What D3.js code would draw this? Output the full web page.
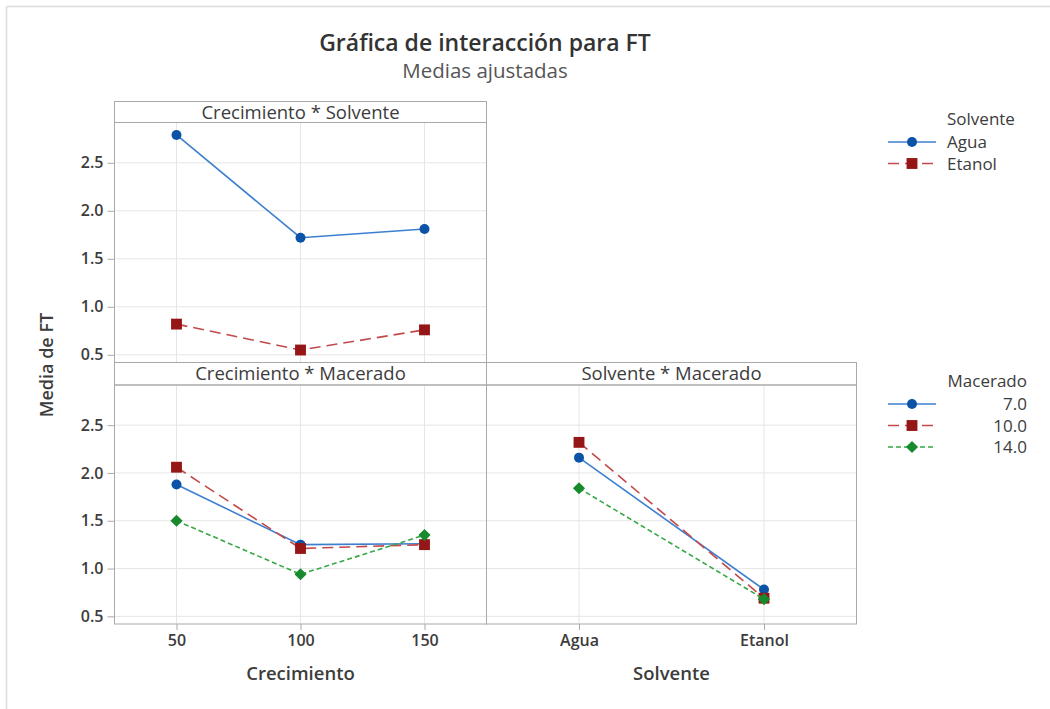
<!DOCTYPE html>
<html>
<head>
<meta charset="utf-8">
<script src="https://cdn.jsdelivr.net/npm/d3@7"></script>
<style>
  body { margin: 0; background: #fff; }
  svg { font-family: "Open Sans", "Noto Sans", sans-serif; }
</style>
</head>
<body>
<div id="chart"></div>
<script>
// ---- data ----
var crecimiento = ["50", "100", "150"];
var solvente = ["Agua", "Etanol"];
var macerado = ["7.0", "10.0", "14.0"];
var yTicks = [0.5, 1.0, 1.5, 2.0, 2.5];

// Crecimiento * Solvente
var csAgua = [2.79, 1.72, 1.81];
var csEtanol = [0.82, 0.55, 0.76];
// Crecimiento * Macerado
var cm7 = [1.88, 1.25, 1.26];
var cm10 = [2.06, 1.21, 1.25];
var cm14 = [1.50, 0.94, 1.35];
// Solvente * Macerado
var sm7 = [2.16, 0.78];
var sm10 = [2.32, 0.69];
var sm14 = [1.84, 0.68];

/* ****** SVG ****** */
var width = 1050, height = 709;
var svg = d3.select("#chart").append("svg")
    .attr("width", width)
    .attr("height", height);

// outer frame (only top/left visible in the reference)
svg.append("line").attr("x1", 6.5).attr("x2", 6.5).attr("y1", 6.5).attr("y2", height)
    .attr("stroke", "#dcdcdc").attr("stroke-width", 1.5);
svg.append("line").attr("x1", 6.5).attr("x2", width).attr("y1", 6.5).attr("y2", 6.5)
    .attr("stroke", "#dcdcdc").attr("stroke-width", 1.5);

var border = "#a9a9a9", grid = "#e6e6e6", txt = "#3c3c3c";

// styles for each series
var styles = {
    blue:  { line: "#3d7fcf", mark: "#0b53a6", dash: null,   sym: "circle" },
    red:   { line: "#c24a4a", mark: "#951616", dash: "11,6", sym: "square" },
    green: { line: "#36a845", mark: "#168a2c", dash: "5,3",  sym: "diamond" }
};

function marker(g, st, x, y) {
    if (st.sym === "circle") {
        g.append("circle").attr("cx", x).attr("cy", y).attr("r", 5)
            .attr("fill", st.mark);
    } else if (st.sym === "square") {
        g.append("path").attr("d", d3.symbol().type(d3.symbolSquare).size(118)())
            .attr("transform", "translate(" + x + "," + y + ")")
            .attr("fill", st.mark);
    } else {
        g.append("path").attr("d", d3.symbol().type(d3.symbolSquare).size(74)())
            .attr("transform", "translate(" + x + "," + y + ") rotate(45)")
            .attr("fill", st.mark);
    }
}

/* ****** Panels ****** */
var xL = 114.5, xM = 486.5, xR = 856.5;
var panels = [
    { title: "Crecimiento * Solvente", x0: xL, x1: xM, hTop: 101.5, top: 122.5, bottom: 362.5,
      cats: crecimiento, series: [[csAgua, styles.blue], [csEtanol, styles.red]], yAxis: true, xAxis: false },
    { title: "Crecimiento * Macerado", x0: xL, x1: xM, hTop: 362.5, top: 385, bottom: 624,
      cats: crecimiento, series: [[cm7, styles.blue], [cm10, styles.red], [cm14, styles.green]], yAxis: true, xAxis: true },
    { title: "Solvente * Macerado", x0: xM, x1: xR, hTop: 362.5, top: 385, bottom: 624,
      cats: solvente, series: [[sm7, styles.blue], [sm10, styles.red], [sm14, styles.green]], yAxis: false, xAxis: true }
];

panels.forEach(function(p) {
    var g = svg.append("g");
    var x = d3.scalePoint().domain(p.cats).range([p.x0, p.x1]).padding(0.5);
    var y = d3.scaleLinear().domain([0.42, 2.92]).range([p.bottom, p.top]);

    // gridlines
    g.selectAll(".hg").data(yTicks).enter().append("line")
        .attr("x1", p.x0).attr("x2", p.x1)
        .attr("y1", function(d) { return y(d); }).attr("y2", function(d) { return y(d); })
        .attr("stroke", grid);
    g.selectAll(".vg").data(p.cats).enter().append("line")
        .attr("x1", function(d) { return x(d); }).attr("x2", function(d) { return x(d); })
        .attr("y1", p.top).attr("y2", p.bottom)
        .attr("stroke", grid);

    // header strip
    g.append("rect").attr("x", p.x0).attr("y", p.hTop)
        .attr("width", p.x1 - p.x0).attr("height", p.top - p.hTop)
        .attr("fill", "#fff").attr("stroke", border);
    g.append("text").attr("x", (p.x0 + p.x1) / 2).attr("y", (p.hTop + p.top) / 2 + 6.5)
        .attr("text-anchor", "middle").attr("font-size", 18.5).attr("fill", txt)
        .text(p.title);

    // frame
    g.append("rect").attr("x", p.x0).attr("y", p.top)
        .attr("width", p.x1 - p.x0).attr("height", p.bottom - p.top)
        .attr("fill", "none").attr("stroke", border);

    // axes
    if (p.yAxis) {
        var ya = g.append("g").attr("transform", "translate(" + p.x0 + ",0)")
            .call(d3.axisLeft(y).tickValues(yTicks).tickFormat(d3.format(".1f")).tickSize(7).tickPadding(4));
        ya.select(".domain").remove();
        ya.selectAll("line").attr("stroke", border);
        ya.selectAll("text").attr("font-size", 16).attr("font-weight", 600).attr("fill", txt)
            .attr("font-family", "'Open Sans', sans-serif");
    }
    if (p.xAxis) {
        var xa = g.append("g").attr("transform", "translate(0," + p.bottom + ")")
            .call(d3.axisBottom(x).tickSize(6).tickPadding(5));
        xa.select(".domain").remove();
        xa.selectAll("line").attr("stroke", border);
        xa.selectAll("text").attr("font-size", 16).attr("font-weight", 600).attr("fill", txt)
            .attr("font-family", "'Open Sans', sans-serif");
    }

    // series
    p.series.forEach(function(s) {
        var vals = s[0], st = s[1];
        var line = d3.line()
            .x(function(d, i) { return x(p.cats[i]); })
            .y(function(d) { return y(d); });
        g.append("path").datum(vals).attr("d", line)
            .attr("fill", "none").attr("stroke", st.line).attr("stroke-width", 1.6)
            .attr("stroke-dasharray", st.dash);
        vals.forEach(function(v, i) { marker(g, st, x(p.cats[i]), y(v)); });
    });
});

/* ****** Titles ****** */
svg.append("text").attr("x", 485).attr("y", 51).attr("text-anchor", "middle")
    .attr("font-size", 23).attr("font-weight", 600).attr("fill", "#333")
    .text("Gráfica de interacción para FT");
svg.append("text").attr("x", 485).attr("y", 78).attr("text-anchor", "middle")
    .attr("font-size", 20.5).attr("fill", "#555")
    .text("Medias ajustadas");

svg.append("text").attr("transform", "translate(53,365) rotate(-90)")
    .attr("text-anchor", "middle").attr("font-size", 18).attr("font-weight", 600).attr("fill", txt)
    .text("Media de FT");
svg.append("text").attr("x", (xL + xM) / 2).attr("y", 680).attr("text-anchor", "middle")
    .attr("font-size", 18.5).attr("font-weight", 600).attr("fill", txt)
    .text("Crecimiento");
svg.append("text").attr("x", (xM + xR) / 2).attr("y", 680).attr("text-anchor", "middle")
    .attr("font-size", 18.5).attr("font-weight", 600).attr("fill", txt)
    .text("Solvente");

/* ****** Legends ****** */
function legend(title, labels, sts, top, anchorEnd) {
    var g = svg.append("g");
    g.append("text").attr("x", anchorEnd ? 1027 : 947).attr("y", top)
        .attr("text-anchor", anchorEnd ? "end" : "start")
        .attr("font-size", 17).attr("fill", txt).text(title);
    labels.forEach(function(lab, i) {
        var cy = top + 17 + i * 21.5;
        var st = sts[i];
        g.append("line").attr("x1", 888).attr("x2", 936).attr("y1", cy).attr("y2", cy)
            .attr("stroke", st.line).attr("stroke-width", 1.6).attr("stroke-dasharray", st.dash);
        marker(g, st, 912, cy);
        g.append("text").attr("x", anchorEnd ? 1027 : 947).attr("y", cy + 6)
            .attr("text-anchor", anchorEnd ? "end" : "start")
            .attr("font-size", 17).attr("fill", txt).text(lab);
    });
}
legend("Solvente", solvente, [styles.blue, styles.red], 125, false);
legend("Macerado", macerado, [styles.blue, styles.red, styles.green], 387, true);
</script>
</body>
</html>
